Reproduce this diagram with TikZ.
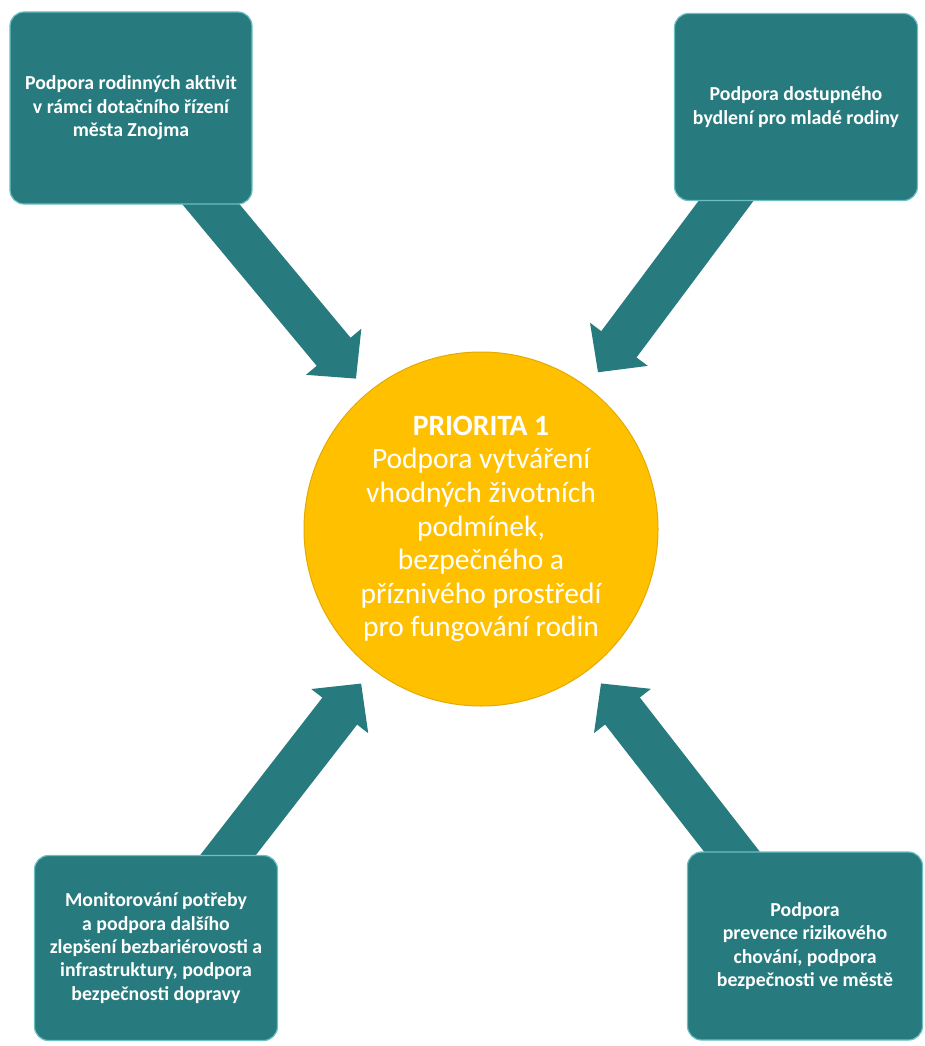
\documentclass[tikz,border=0pt]{standalone}
\usepackage{fontspec}
\setmainfont{Carlito}
\usepackage{xcolor}
\usetikzlibrary{arrows.meta, backgrounds}

\definecolor{teal box}{HTML}{277B7E}
\definecolor{teal edge}{HTML}{6CC0C4}
\definecolor{prio gold}{HTML}{FFC000}
\definecolor{prio edge}{HTML}{E3AA00}

\begin{document}
\begin{tikzpicture}[x=1pt, y=-1pt,
    goalbox/.style={draw=teal edge, line width=1.2pt, fill=teal box, rectangle, rounded corners=14pt,
        text=white, align=center, font=\fontsize{19.8}{23.3}\selectfont\bfseries},
    priocircle/.style={draw=prio edge, line width=1pt, fill=prio gold, circle, minimum size=354pt,
        text=white, align=center, inner sep=0pt, font=\fontsize{29.5}{33.6}\selectfont},
    flowarrow/.style={draw=teal box, line width=44pt, -{Triangle[width=70pt, length=35pt]},
        shorten >=18pt, shorten <=-20pt}]
    \useasboundingbox (0,0) rectangle (924,1046);

    \node [priocircle] (prio) at (481,529) {{\bfseries PRIORITA 1}\\Podpora vytváření\\vhodných životních\\podmínek,\\bezpečného a\\příznivého prostředí\\pro fungování rodin};

    \node [goalbox, minimum width=242pt, minimum height=192pt] (activities) at (131,108) {Podpora rodinných aktivit\\v rámci dotačního řízení\\města Znojma};
    \node [goalbox, minimum width=243pt, minimum height=187pt] (housing) at (796,107) {Podpora dostupného\\bydlení pro mladé rodiny};
    \node [goalbox, minimum width=243pt, minimum height=185pt] (access) at (156,948) {Monitorování potřeby\\a podpora dalšího\\zlepšení bezbariérovosti a\\infrastruktury, podpora\\bezpečnosti dopravy};
    \node [goalbox, minimum width=235pt, minimum height=188pt] (safety) at (805,946) {Podpora\\prevence rizikového\\chování, podpora\\bezpečnosti ve městě};

    \begin{scope}[on background layer]
        \draw [flowarrow] (activities) -- (prio);
        \draw [flowarrow] (housing) -- (prio);
        \draw [flowarrow] (access) -- (prio);
        \draw [flowarrow] (safety) -- (prio);
    \end{scope}
\end{tikzpicture}
\end{document}
